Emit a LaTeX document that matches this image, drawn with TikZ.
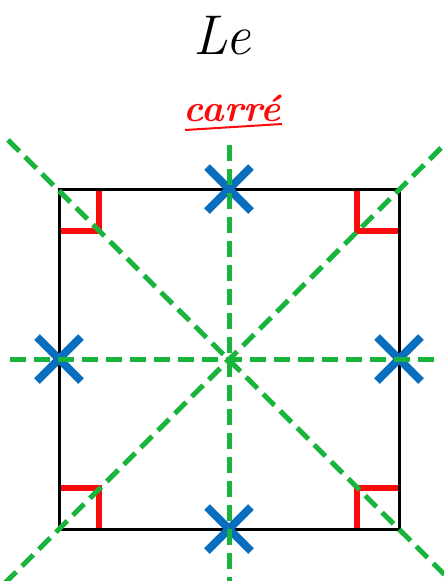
\documentclass[tikz,border=0pt]{standalone}
\usepackage{fontspec}
\definecolor{axisgreen}{RGB}{24,180,60}
\definecolor{crossblue}{RGB}{10,110,190}
\definecolor{markred}{RGB}{250,10,10}
\begin{document}
\begin{tikzpicture}[x=1pt,y=-1pt,
  axis/.style={axisgreen,line width=5pt,dash pattern=on 16pt off 8pt},
  side/.style={black,line width=3pt},
  rightmark/.style={markred,line width=6.5pt},
  crossmark/.style={crossblue,line width=8pt},
  title/.style={font=\fontsize{56}{60}\selectfont\itshape},
  subtitle/.style={markred,font=\fontsize{38}{42}\selectfont\bfseries\itshape}]
\useasboundingbox (0,0) rectangle (444,581);
% square corners
\coordinate (A) at (59,189);
\coordinate (B) at (399,189);
\coordinate (C) at (399,529);
\coordinate (D) at (59,529);
\coordinate (O) at (229,359);
% title
\node[title] (le) at (222,36) {Le};
\node[subtitle] (carre) at (232,108) {carré};
\coordinate (u1) at (185,130);
\coordinate (u2) at (282,124);
\draw[markred,line width=2pt] (u1) -- (u2);
% axes of symmetry
\coordinate (t1) at (8,140);
\coordinate (t2) at (450,580);
\coordinate (s1) at (441,148);
\coordinate (s2) at (0,588);
\coordinate (h1) at (10,359);
\coordinate (h2) at (442,359);
\coordinate (v1) at (229,145);
\coordinate (v2) at (229,585);
% right angle marks
\draw[rightmark] (99,189) -- (99,231) -- (59,231);
\draw[rightmark] (357,189) -- (357,231) -- (399,231);
\draw[rightmark] (99,529) -- (99,488) -- (59,488);
\draw[rightmark] (357,529) -- (357,488) -- (399,488);
% square
\draw[side] (A) -- (B) -- (C) -- (D) -- cycle;
% crosses
\foreach \p in {(229,189),(229,529),(59,359),(399,359)}{
  \draw[crossmark] \p ++(-22,-22) -- ++(44,44);
  \draw[crossmark] \p ++(22,-22) -- ++(-44,44);
}
\draw[axis] (t1) -- (t2);
\draw[axis] (s1) -- (s2);
\draw[axis] (h1) -- (h2);
\draw[axis] (v1) -- (v2);
\end{tikzpicture}
\end{document}
